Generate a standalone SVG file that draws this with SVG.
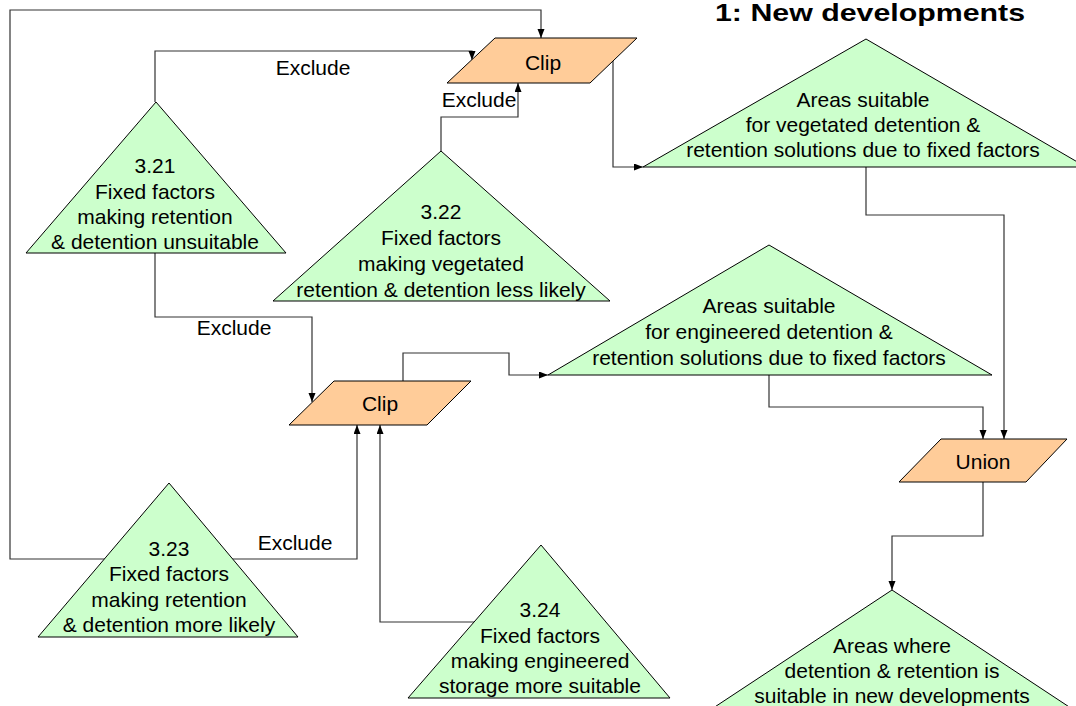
<svg xmlns="http://www.w3.org/2000/svg" width="1076" height="706" viewBox="0 0 1076 706">
  <defs>
    <marker id="arrow" markerUnits="userSpaceOnUse" markerWidth="10" markerHeight="8" refX="9" refY="3.5" orient="auto">
      <path d="M0,0 L9,3.5 L0,7 z" fill="#000"/>
    </marker>
    <style>
      text { font-family: "Liberation Sans", Arial, sans-serif; font-size: 21px; fill: #000; text-anchor: middle; }
      .title { font-weight: bold; font-size: 24px; }
      .layer { fill: #CCFFCC; stroke: #000; stroke-width: 1; }
      .op { fill: #FFCC99; stroke: #000; stroke-width: 1; }
      .link { fill: none; stroke: #333; stroke-width: 1.2; }
      .link.head { marker-end: url(#arrow); }
    </style>
  </defs>
  <rect width="1076" height="706" fill="#fff"/>

  <text class="title" x="870" y="21" textLength="310" lengthAdjust="spacingAndGlyphs">1: New developments</text>

  <!-- connectors and their labels -->
  <g id="connectors">
    <path class="link head" d="M169,559 H10 V10 H541 V38"/>
    <path class="link head" d="M169,559 H357 V425"/>
    <path class="link head" d="M155,102 V51 H472 V60"/>
    <path class="link head" d="M441,151 V117 H518 V83"/>
    <path class="link head" d="M613,61 V167 H643"/>
    <path class="link head" d="M155,253 V317 H312 V402"/>
    <path class="link head" d="M540,622 H380 V425"/>
    <path class="link head" d="M403,381 V353 H509 V375 H548"/>
    <path class="link head" d="M866,167 V215 H1004 V439"/>
    <path class="link head" d="M769,375 V407 H983 V439"/>
    <path class="link head" d="M983,482 V536 H892 V590"/>
    <text x="313" y="75">Exclude</text>
    <text x="479" y="107">Exclude</text>
    <text x="234" y="335">Exclude</text>
    <text x="295" y="550">Exclude</text>
  </g>

  <!-- input layers -->
  <g id="n321">
    <polygon class="layer" points="156,102 26,253 286,253"/>
    <text x="155" y="173">3.21</text>
    <text x="155" y="199">Fixed factors</text>
    <text x="155" y="224">making retention</text>
    <text x="155" y="249">&amp; detention unsuitable</text>
  </g>
  <g id="n322">
    <polygon class="layer" points="441,151 273,301 610,301"/>
    <text x="441" y="219">3.22</text>
    <text x="441" y="245">Fixed factors</text>
    <text x="441" y="271">making vegetated</text>
    <text x="441" y="297">retention &amp; detention less likely</text>
  </g>
  <g id="n323">
    <polygon class="layer" points="169,483 38,637 298,637"/>
    <text x="169" y="556">3.23</text>
    <text x="169" y="581">Fixed factors</text>
    <text x="169" y="607">making retention</text>
    <text x="169" y="632">&amp; detention more likely</text>
  </g>
  <g id="n324">
    <polygon class="layer" points="541,545 408,698 670,698"/>
    <text x="540" y="617">3.24</text>
    <text x="540" y="643">Fixed factors</text>
    <text x="540" y="668">making engineered</text>
    <text x="540" y="693">storage more suitable</text>
  </g>

  <!-- operations -->
  <g id="clip1">
    <polygon class="op" points="495,38 637,38 590,83 447,83"/>
    <text x="543" y="70">Clip</text>
  </g>
  <g id="clip2">
    <polygon class="op" points="334,381 471,381 427,425 289,425"/>
    <text x="380" y="411">Clip</text>
  </g>
  <g id="union">
    <polygon class="op" points="941,439 1067,439 1026,482 899,482"/>
    <text x="983" y="469">Union</text>
  </g>

  <!-- intermediate and final results -->
  <g id="vegetated">
    <polygon class="layer" points="866,39 643,167 1086,167"/>
    <text x="863" y="107">Areas suitable</text>
    <text x="863" y="132">for vegetated detention &amp;</text>
    <text x="863" y="157">retention solutions due to fixed factors</text>
  </g>
  <g id="engineered">
    <polygon class="layer" points="769,245 548,375 992,375"/>
    <text x="769" y="313">Areas suitable</text>
    <text x="769" y="339">for engineered detention &amp;</text>
    <text x="769" y="365">retention solutions due to fixed factors</text>
  </g>
  <g id="result">
    <polygon class="layer" points="892,590 692,722 1092,722"/>
    <text x="892" y="653">Areas where</text>
    <text x="892" y="678">detention &amp; retention is</text>
    <text x="892" y="703">suitable in new developments</text>
  </g>
</svg>
